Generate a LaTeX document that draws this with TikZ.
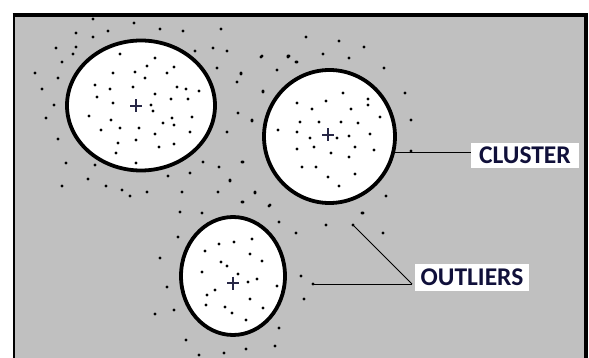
\documentclass[tikz,border=0pt]{standalone}
\usepackage{fontspec}
\setmainfont{Carlito}
\usetikzlibrary{shapes.geometric}
\definecolor{bggray}{HTML}{C0C0C0}
\definecolor{labtext}{HTML}{10103A}
\tikzset{
  clusterbox/.style={ellipse, draw=black, line width=3.8pt, fill=white, inner sep=0pt},
  labelbox/.style={fill=white, inner sep=0pt, text=labtext, font=\fontsize{25.5}{26}\selectfont\bfseries},
  leader/.style={draw=black, line width=1pt},
  dotmark/.style={fill=black},
  plusmark/.style={draw={rgb,255:red,40;green,40;blue,70}, line width=1.1pt}
}
\begin{document}
\begin{tikzpicture}[x=1pt,y=-1pt]
\useasboundingbox (0,0) rectangle (589,358);
% background and frame
\fill[bggray] (14,15) rectangle (586,358);
\draw[line width=3.8pt] (12.5,15) -- (587.5,15);
\draw[line width=1.8pt] (14,15) -- (14,358);
\draw[line width=3.2pt] (586,15) -- (586,358);
% clusters
\node[clusterbox, minimum width=148pt, minimum height=130pt] (c1) at (141,105.5) {};
\node[clusterbox, minimum width=131pt, minimum height=133pt] (c2) at (329.5,136.5) {};
\node[clusterbox, minimum width=104pt, minimum height=118pt] (c3) at (233,276) {};
% dots
\foreach \x/\y in {
 93/19,134/23,76/33,93/37,108/31,160/29,183/31,221/29,56/48,76/47,73/54,62/62,35/73,58/78,
 42/89,54/105,46/118,58/139,66/163,95/165,88/179,62/186,106/186,122/190,130/196,147/192,
 182/192,218/192,255/192,168/176,190/173,203/162,219/167,230/180,242/162,227/132,238/113,
 252/120,237/82,241/73,263/91,261/57,277/70,288/57,297/62,195/51,213/48,227/51,217/68,
 120/54,155/58,147/66,174/67,135/72,113/73,167/73,145/78,95/85,110/89,133/87,177/87,186/89,
 199/91,97/97,155/94,171/99,188/99,113/103,151/105,153/111,89/116,111/120,172/118,192/117,
 163/123,174/125,101/130,120/128,139/128,155/134,190/132,136/140,118/143,159/147,174/144,
 116/153,136/163,
 306/37,339/41,364/47,288/56,296/62,323/54,349/58,384/68,405/93,411/120,411/151,386/196,
 262/56,289/56,241/74,263/92,252/121,243/162,255/193,243/202,270/205,363/213,
 297/103,326/101,343/93,368/99,368/105,312/109,351/109,380/117,300/122,319/122,341/122,
 358/123,278/130,297/132,310/138,337/138,349/136,370/134,314/147,297/149,355/147,374/150,
 331/153,349/157,302/167,316/167,355/174,328/177,339/186,
 230/181,242/202,269/206,180/212,202/213,279/222,296/233,326/225,362/213,383/233,178/237,
 160/258,301/276,304/299,167/287,155/314,174/310,279/328,186/340,199/355,224/353,246/349,275/346,
 219/244,234/242,252/239,205/251,250/254,221/262,227/266,262/261,202/272,238/274,248/282,
 257/279,215/290,277/286,207/295,250/299,206/305,225/307,263/308,232/313,246/320}
 {\fill[dotmark] (\x,\y) circle (1.65pt);}
% outlier dots used by leaders
\coordinate (o1) at (313,284);
\coordinate (o2) at (353,225);
\fill[dotmark] (o1) circle (1.65pt);
\fill[dotmark] (o2) circle (1.65pt);
% centroids
\foreach \c/\x/\y in {1/136/106,2/328/135,3/233/283}{
  \draw[plusmark] (\x-6,\y) -- (\x+6,\y);
  \draw[plusmark] (\x,\y-6.5) -- (\x,\y+6.5);
}
% labels
\node[labelbox, minimum width=108pt, minimum height=25pt] (cl) at (525,155.5) {CLUSTER};
\node[labelbox, minimum width=114pt, minimum height=27pt] (ol) at (472,277.5) {OUTLIERS};
\coordinate (oj) at (412,284);
% leaders
\draw[leader] (c2.-14) -- (c2.-14 -| cl.west);
\draw[leader] (o1) -- (oj);
\draw[leader] (o2) -- (oj);
\end{tikzpicture}
\end{document}
